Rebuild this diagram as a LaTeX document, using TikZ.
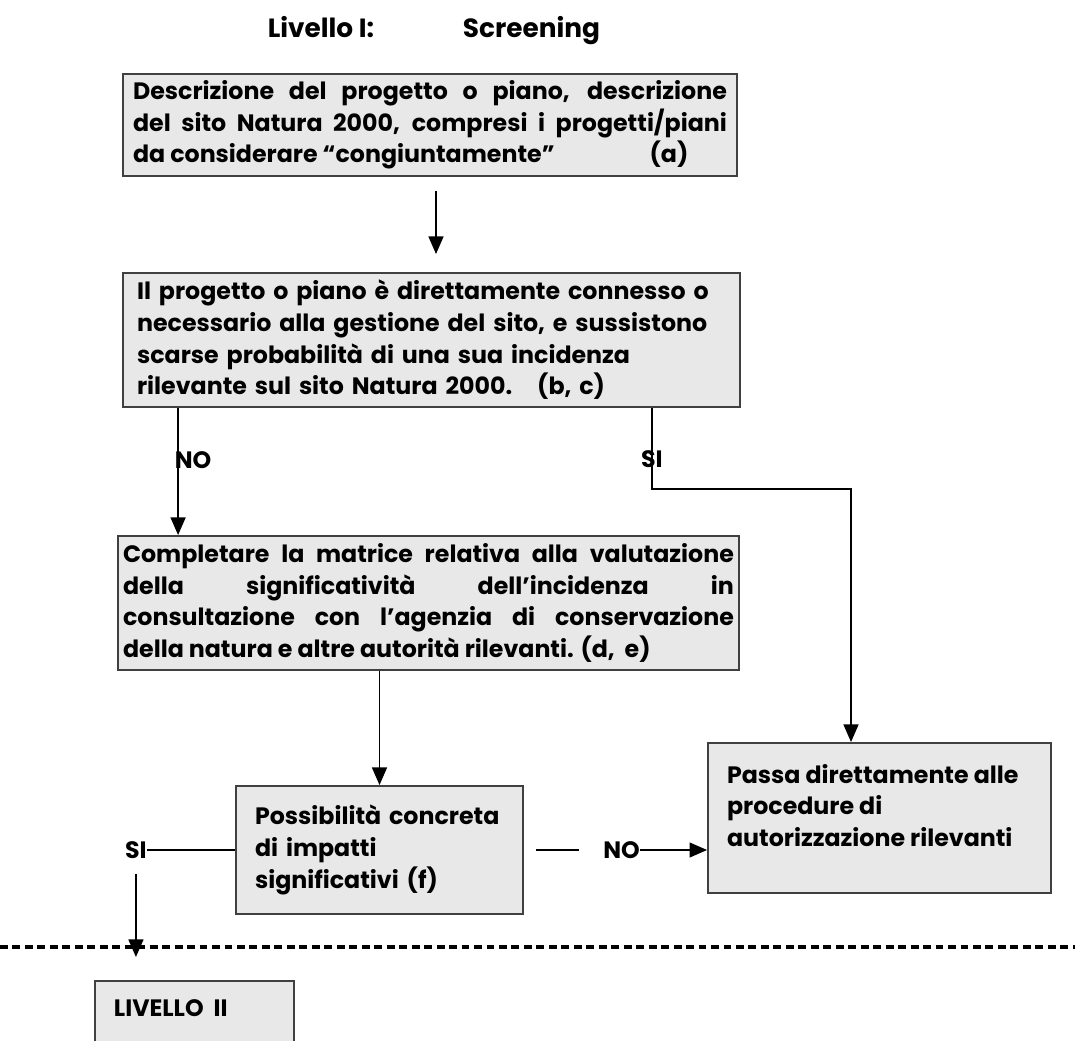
\documentclass[tikz,border=0pt]{standalone}
\usepackage{fontspec}
\setmainfont{Poppins}
\usepackage{tikz}
\usetikzlibrary{arrows.meta,calc,positioning}
\definecolor{boxgray}{rgb}{0.91,0.91,0.91}
\definecolor{edgegray}{rgb}{0.25,0.25,0.25}

\begin{document}
\begin{tikzpicture}[x=0.02cm, y=-0.02cm,
    every node/.style={font=\bfseries\fontsize{13.5}{18}\selectfont},
    box/.style={draw=edgegray, line width=1.1pt, fill=boxgray, inner ysep=0pt},
    lbl/.style={inner sep=0pt},
    arrow/.style={-{Triangle[length=10pt,width=8.5pt]}, line width=0.85pt},
    link/.style={line width=0.85pt},
    dashline/.style={dash pattern=on 4.5pt off 2.6pt, line width=1.8pt}]
  % Page frame
  \clip (0,0) rectangle (1075,1041);
  \fill[white] (0,0) rectangle (1075,1041);
  % Title
  \node[font=\bfseries\fontsize{15}{18}\selectfont, anchor=base] (livello) at (321,37) {Livello I:};
  \node[font=\bfseries\fontsize{15}{18}\selectfont, anchor=base] (screening) at (531.5,37) {Screening};
  % Boxes
  \node[box, minimum width=12.28cm, minimum height=2.04cm, text width=11.88cm, inner xsep=0.2cm, align=justify] (descr) at (430,125)
    {Descrizione del progetto o piano, descrizione\linebreak del sito Natura 2000, compresi i progetti/piani\linebreak da considerare “congiuntamente”\hspace{1.9cm}(a)};
  \node[box, minimum width=12.34cm, minimum height=2.68cm, text width=11.78cm, inner xsep=0.28cm, align=left] (gestione) at (431.5,340)
    {Il progetto o piano è direttamente connesso o\\ necessario alla gestione del sito, e sussistono\\ scarse probabilità di una sua incidenza\\ rilevante sul sito Natura 2000.\hspace{0.5cm}(b, c)};
  \node[box, minimum width=12.42cm, minimum height=2.68cm, text width=12.22cm, inner xsep=0.1cm, align=justify] (matrice) at (428.5,603)
    {Completare la matrice relativa alla valutazione\linebreak della significatività dell’incidenza in\linebreak consultazione con l’agenzia di conservazione\linebreak della natura e altre autorità rilevanti. (d,\hspace{0.2cm}e)};
  \node[box, minimum width=5.74cm, minimum height=2.56cm, text width=4.98cm, inner xsep=0.38cm, align=left] (impatti) at (379.5,850)
    {Possibilità concreta\\ di impatti\\ significativi (f)};
  \node[box, inner xsep=0.38cm, inner ysep=0.42cm] (passa) at (879.5,818)
    {\parbox[c][2.16cm][t]{6.1cm}{\raggedright Passa direttamente alle\\ procedure di\\ autorizzazione rilevanti}};
  \node[box, inner xsep=0.38cm, inner ysep=0.38cm, anchor=north west] (liv2) at (94,980)
    {\parbox[c][1.6cm][t]{3.22cm}{LIVELLO\ \ II}};
  % Level cut
  \coordinate (cutL) at (0,947);
  \coordinate (cutR) at (1075,947);
  \draw[dashline] (cutL) -- (cutR);
  % Connectors
  \coordinate (a1) at ([xshift=0.12cm]descr.south);
  \draw[arrow, shorten <=0.28cm, shorten >=0.36cm] (a1) -- (a1 |- gestione.north);
  \coordinate (noTop) at ([xshift=1.12cm]gestione.south west);
  \draw[arrow] (noTop) -- (noTop |- matrice.north)
    node[lbl, pos=0.41, anchor=west, xshift=-0.08cm] (noB) {NO};
  \coordinate (siTop) at ([xshift=-1.78cm]gestione.south east);
  \coordinate (siIn) at ([xshift=-0.57cm]passa.north);
  \draw[arrow] (siTop) -- ++(0,81) node[lbl, pos=0.63] (siB) {SI} -| (siIn);
  \draw[arrow] (matrice.south -| impatti.north) -- (impatti.north);
  \node[lbl, anchor=west] (noD) at ([xshift=1.58cm]impatti.east) {NO};
  \coordinate (noStart) at ([xshift=0.24cm]impatti.east);
  \draw[link] (noStart) -- ([xshift=-0.48cm]noD.west);
  \draw[arrow] (noD.east) -- (noD.east -| passa.west);
  \node[lbl, anchor=east] (siD) at ([xshift=-1.76cm]impatti.west) {SI};
  \draw[link] (siD.east) -- (siD.east -| impatti.west);
  \draw[arrow, shorten <=0.3cm, shorten >=0.46cm] (siD.south) -- (siD.south |- liv2.north);
\end{tikzpicture}
\end{document}
